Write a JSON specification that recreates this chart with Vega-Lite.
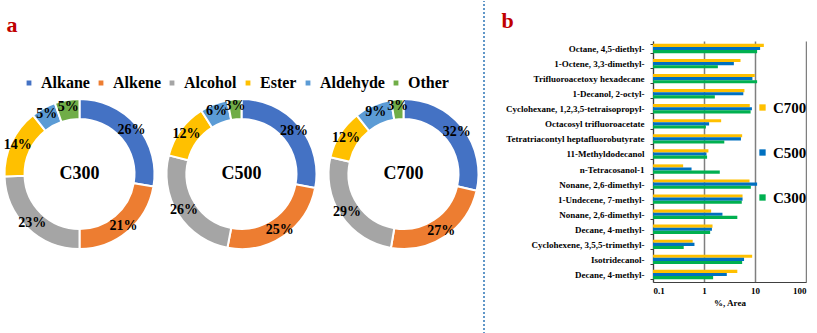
{
  "$schema": "https://vega.github.io/schema/vega-lite/v6.json",
  "padding": {"left": 0, "top": 0, "right": 0, "bottom": 0},
  "background": "white",
  "config": {"view": {"stroke": null}, "font": "Liberation Serif"},
  "spacing": 0,
  "resolve": {"scale": {"x": "independent", "y": "independent", "color": "independent"}, "legend": {"color": "independent"}},
  "hconcat": [
    {
      "data": {"values": [
        {"sample": "C300", "group": "Alkane", "idx": 1, "pct": 26},
        {"sample": "C300", "group": "Alkene", "idx": 2, "pct": 21},
        {"sample": "C300", "group": "Alcohol", "idx": 3, "pct": 23},
        {"sample": "C300", "group": "Ester", "idx": 4, "pct": 14},
        {"sample": "C300", "group": "Aldehyde", "idx": 5, "pct": 5},
        {"sample": "C300", "group": "Other", "idx": 6, "pct": 5},
        {"sample": "C500", "group": "Alkane", "idx": 1, "pct": 28},
        {"sample": "C500", "group": "Alkene", "idx": 2, "pct": 25},
        {"sample": "C500", "group": "Alcohol", "idx": 3, "pct": 26},
        {"sample": "C500", "group": "Ester", "idx": 4, "pct": 12},
        {"sample": "C500", "group": "Aldehyde", "idx": 5, "pct": 6},
        {"sample": "C500", "group": "Other", "idx": 6, "pct": 3},
        {"sample": "C700", "group": "Alkane", "idx": 1, "pct": 32},
        {"sample": "C700", "group": "Alkene", "idx": 2, "pct": 27},
        {"sample": "C700", "group": "Alcohol", "idx": 3, "pct": 29},
        {"sample": "C700", "group": "Ester", "idx": 4, "pct": 12},
        {"sample": "C700", "group": "Aldehyde", "idx": 5, "pct": 9},
        {"sample": "C700", "group": "Other", "idx": 6, "pct": 3}
      ]},
      "transform": [{"calculate": "datum.pct + '%'", "as": "label"}],
      "title": {"text": "a", "anchor": "start", "fontSize": 22, "fontWeight": "bold", "color": "#C00000", "font": "Liberation Serif", "offset": 4, "dx": 6},
      "facet": {"column": {"field": "sample", "type": "nominal", "sort": ["C300", "C500", "C700"], "header": null}},
      "spacing": 3,
      "resolve": {"scale": {"theta": "independent"}},
      "spec": {
        "width": 155,
        "height": 266,
        "layer": [
          {
            "mark": {"type": "arc", "outerRadius": 75, "innerRadius": 55, "stroke": "white", "strokeWidth": 2},
            "encoding": {
              "theta": {"field": "pct", "type": "quantitative", "stack": true},
              "order": {"field": "idx", "type": "quantitative"},
              "color": {
                "field": "group", "type": "nominal",
                "scale": {"domain": ["Alkane", "Alkene", "Alcohol", "Ester", "Aldehyde", "Other"], "range": ["#4472C4", "#ED7D31", "#A5A5A5", "#FFC000", "#5B9BD5", "#70AD47"]},
                "legend": {"orient": "none", "legendX": 19, "legendY": 34, "direction": "horizontal", "columns": 6, "title": null, "labelFont": "Liberation Serif", "labelFontSize": 16, "labelFontWeight": "bold", "labelColor": "black", "symbolType": "square", "symbolSize": 40, "columnPadding": 3, "labelOffset": 4}
              }
            }
          },
          {
            "mark": {"type": "text", "radius": 68, "fontSize": 14, "fontWeight": "bold", "font": "Liberation Serif", "color": "black"},
            "encoding": {
              "theta": {"field": "pct", "type": "quantitative", "stack": true},
              "order": {"field": "idx", "type": "quantitative"},
              "text": {"field": "label", "type": "nominal"}
            }
          },
          {
            "transform": [{"filter": "datum.idx == 1"}],
            "mark": {"type": "text", "fontSize": 18, "fontWeight": "bold", "font": "Liberation Serif", "color": "black"},
            "encoding": {"text": {"field": "sample", "type": "nominal"}}
          }
        ]
      }
    },
    {
      "width": 17,
      "height": 293,
      "data": {"values": [{"v": 0, "y0": 0, "y1": 1.1365}]},
      "mark": {"type": "rule", "strokeDash": [2, 2], "color": "#2E75B6", "strokeWidth": 1.5, "clip": false},
      "encoding": {
        "x": {"field": "v", "type": "quantitative", "scale": {"domain": [0, 1]}, "axis": null},
        "y": {"field": "y0", "type": "quantitative", "scale": {"domain": [0, 1], "zero": false}, "axis": null},
        "y2": {"field": "y1"}
      }
    },
    {
      "width": 153,
      "height": 241,
      "title": {"text": "b", "anchor": "start", "frame": "bounds", "fontSize": 22, "fontWeight": "bold", "color": "#C00000", "font": "Liberation Serif", "offset": 4, "dx": -4},
      "data": {"values": [
        {"compound": "Octane, 4,5-diethyl-", "sample": "C700", "value": 14.9},
        {"compound": "Octane, 4,5-diethyl-", "sample": "C500", "value": 12.6},
        {"compound": "Octane, 4,5-diethyl-", "sample": "C300", "value": 11.0},
        {"compound": "1-Octene, 3,3-dimethyl-", "sample": "C700", "value": 5.2},
        {"compound": "1-Octene, 3,3-dimethyl-", "sample": "C500", "value": 3.85},
        {"compound": "1-Octene, 3,3-dimethyl-", "sample": "C300", "value": 1.87},
        {"compound": "Trifluoroacetoxy hexadecane", "sample": "C700", "value": 9.9},
        {"compound": "Trifluoroacetoxy hexadecane", "sample": "C500", "value": 8.9},
        {"compound": "Trifluoroacetoxy hexadecane", "sample": "C300", "value": 11.0},
        {"compound": "1-Decanol, 2-octyl-", "sample": "C700", "value": 6.2},
        {"compound": "1-Decanol, 2-octyl-", "sample": "C500", "value": 5.9},
        {"compound": "1-Decanol, 2-octyl-", "sample": "C300", "value": 1.63},
        {"compound": "Cyclohexane, 1,2,3,5-tetraisopropyl-", "sample": "C700", "value": 7.9},
        {"compound": "Cyclohexane, 1,2,3,5-tetraisopropyl-", "sample": "C500", "value": 8.7},
        {"compound": "Cyclohexane, 1,2,3,5-tetraisopropyl-", "sample": "C300", "value": 8.2},
        {"compound": "Octacosyl trifluoroacetate", "sample": "C700", "value": 2.17},
        {"compound": "Octacosyl trifluoroacetate", "sample": "C500", "value": 1.26},
        {"compound": "Octacosyl trifluoroacetate", "sample": "C300", "value": 1.09},
        {"compound": "Tetratriacontyl heptafluorobutyrate", "sample": "C700", "value": 5.6},
        {"compound": "Tetratriacontyl heptafluorobutyrate", "sample": "C500", "value": 5.3},
        {"compound": "Tetratriacontyl heptafluorobutyrate", "sample": "C300", "value": 2.5},
        {"compound": "11-Methyldodecanol", "sample": "C700", "value": 1.22},
        {"compound": "11-Methyldodecanol", "sample": "C500", "value": 1.12},
        {"compound": "11-Methyldodecanol", "sample": "C300", "value": 1.15},
        {"compound": "n-Tetracosanol-1", "sample": "C700", "value": 0.39},
        {"compound": "n-Tetracosanol-1", "sample": "C500", "value": 0.57},
        {"compound": "n-Tetracosanol-1", "sample": "C300", "value": 2.04},
        {"compound": "Nonane, 2,6-dimethyl-", "sample": "C700", "value": 7.8},
        {"compound": "Nonane, 2,6-dimethyl-", "sample": "C500", "value": 11.0},
        {"compound": "Nonane, 2,6-dimethyl-", "sample": "C300", "value": 8.3},
        {"compound": "1-Undecene, 7-methyl-", "sample": "C700", "value": 5.7},
        {"compound": "1-Undecene, 7-methyl-", "sample": "C500", "value": 5.7},
        {"compound": "1-Undecene, 7-methyl-", "sample": "C300", "value": 5.5},
        {"compound": "Nonane, 2,6-dimethyl-\u200b", "sample": "C700", "value": 1.38},
        {"compound": "Nonane, 2,6-dimethyl-\u200b", "sample": "C500", "value": 2.3},
        {"compound": "Nonane, 2,6-dimethyl-\u200b", "sample": "C300", "value": 4.5},
        {"compound": "Decane, 4-methyl-", "sample": "C700", "value": 1.47},
        {"compound": "Decane, 4-methyl-", "sample": "C500", "value": 1.43},
        {"compound": "Decane, 4-methyl-", "sample": "C300", "value": 1.32},
        {"compound": "Cyclohexene, 3,5,5-trimethyl-", "sample": "C700", "value": 0.6},
        {"compound": "Cyclohexene, 3,5,5-trimethyl-", "sample": "C500", "value": 0.65},
        {"compound": "Cyclohexene, 3,5,5-trimethyl-", "sample": "C300", "value": 0.4},
        {"compound": "Isotridecanol-", "sample": "C700", "value": 8.8},
        {"compound": "Isotridecanol-", "sample": "C500", "value": 6.1},
        {"compound": "Isotridecanol-", "sample": "C300", "value": 5.6},
        {"compound": "Decane, 4-methyl-\u200b", "sample": "C700", "value": 4.5},
        {"compound": "Decane, 4-methyl-\u200b", "sample": "C500", "value": 2.8},
        {"compound": "Decane, 4-methyl-\u200b", "sample": "C300", "value": 1.51}
      ]},
      "mark": {"type": "bar"},
      "encoding": {
        "y": {
          "field": "compound", "type": "nominal", "sort": null,
          "scale": {"paddingInner": 0.38, "paddingOuter": 0.19},
          "axis": {"title": null, "labelFont": "Liberation Serif", "labelFontSize": 9, "labelFontWeight": "bold", "labelColor": "black", "domainColor": "#404040", "tickColor": "#404040", "tickSize": 3, "tickBand": "extent", "labelPadding": 6}
        },
        "yOffset": {"field": "sample", "type": "nominal", "sort": ["C700", "C500", "C300"], "scale": {"paddingInner": 0, "paddingOuter": 0}},
        "x": {
          "field": "value", "type": "quantitative", "stack": null,
          "scale": {"type": "log", "domain": [0.1, 100]},
          "axis": {"values": [0.1, 1, 10, 100], "format": "~g", "title": "%, Area", "grid": true, "gridColor": "#7f7f7f", "gridWidth": 1.5, "ticks": false, "labelFont": "Liberation Serif", "labelFontSize": 9, "labelFontWeight": "bold", "labelColor": "black", "titleFont": "Liberation Serif", "titleFontSize": 9, "titleFontWeight": "bold", "titleColor": "black", "titlePadding": 3, "domainColor": "#404040", "labelPadding": 4}
        },
        "x2": {"datum": 0.1},
        "color": {
          "field": "sample", "type": "nominal",
          "scale": {"domain": ["C700", "C500", "C300"], "range": ["#FFC000", "#0070C0", "#00B050"]},
          "legend": {"orient": "none", "legendX": 102, "legendY": 59, "title": null, "labelFont": "Liberation Serif", "labelFontSize": 15, "labelFontWeight": "bold", "labelColor": "black", "symbolType": "square", "symbolSize": 40, "rowPadding": 29, "labelOffset": 3}
        }
      }
    }
  ]
}
